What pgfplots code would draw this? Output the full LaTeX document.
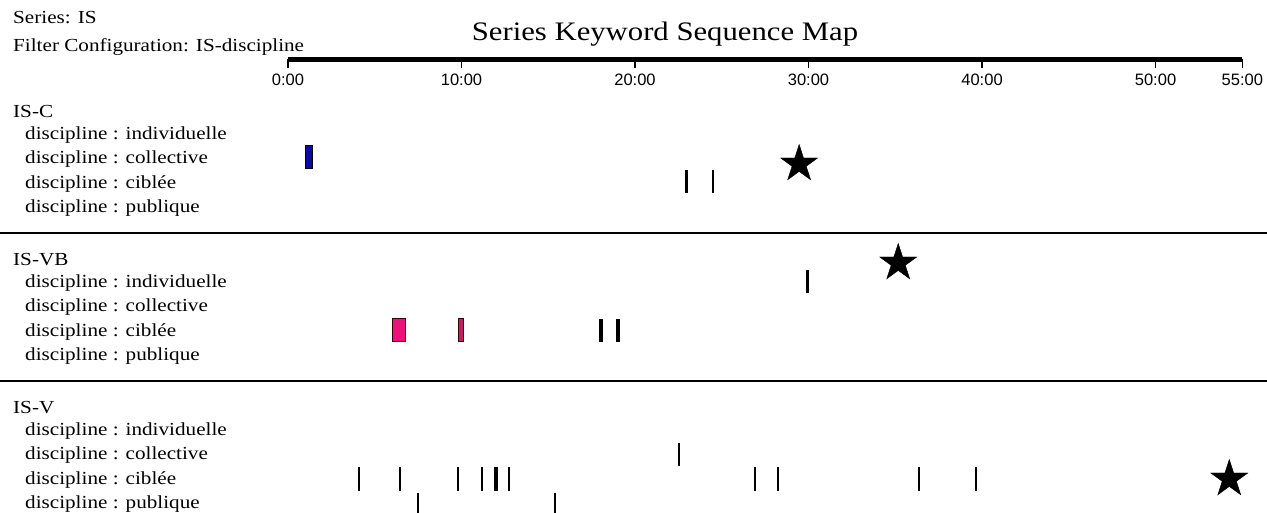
\documentclass[border=0pt]{standalone}
\usepackage{fontspec}
\usepackage{pgfplots}
\pgfplotsset{compat=1.18}
\newfontfamily\lbl{Liberation Serif}[FakeStretch=1.15]
\newfontfamily\tck{Liberation Sans}
\definecolor{barblue}{HTML}{0A0AA0}
\definecolor{barpink}{HTML}{F0107A}
\definecolor{barcrim}{HTML}{C02060}
\pgfdeclareplotmark{fstar}{%
  \pgfpathmoveto{\pgfpointpolar{90}{\pgfplotmarksize}}%
  \pgfpathlineto{\pgfpointpolar{126}{0.382*\pgfplotmarksize}}%
  \pgfpathlineto{\pgfpointpolar{162}{\pgfplotmarksize}}%
  \pgfpathlineto{\pgfpointpolar{198}{0.382*\pgfplotmarksize}}%
  \pgfpathlineto{\pgfpointpolar{234}{\pgfplotmarksize}}%
  \pgfpathlineto{\pgfpointpolar{270}{0.382*\pgfplotmarksize}}%
  \pgfpathlineto{\pgfpointpolar{306}{\pgfplotmarksize}}%
  \pgfpathlineto{\pgfpointpolar{342}{0.382*\pgfplotmarksize}}%
  \pgfpathlineto{\pgfpointpolar{18}{\pgfplotmarksize}}%
  \pgfpathlineto{\pgfpointpolar{54}{0.382*\pgfplotmarksize}}%
  \pgfpathclose
  \pgfusepathqfillstroke}
\tikzset{txt/.style={font=\lbl\fontsize{18.4}{20}\selectfont, anchor=base west, inner sep=0pt}}
\begin{document}
\begin{tikzpicture}
\useasboundingbox (-288pt,0pt) rectangle (979pt,513pt);
\begin{axis}[
  at={(0pt,0pt)}, anchor=south west,
  scale only axis, width=954.3pt, height=453.5pt,
  xmin=0, xmax=55, ymin=-513, ymax=-59.5,
  axis x line*=top, axis y line=none,
  x axis line style={line width=5pt, line cap=butt, black},
  xtick={0,10,20,30,40,50,55},
  xticklabels={0:00,10:00,20:00,30:00,40:00,50:00,55:00},
  tick align=inside,
  major tick length=8.5pt,
  xtick style={line width=1.5pt, black},
  xticklabel style={font=\tck\fontsize{16.5}{18}\selectfont, anchor=north, yshift=-10.5pt},
  unbounded coords=jump,
  clip=false,
]
% colored interval bars
\addplot[fill=barblue, draw=black, line width=1pt] coordinates {(0.98,-146) (1.44,-146) (1.44,-169) (0.98,-169)} --cycle;
\addplot[fill=barpink, draw=black!80!red, line width=1pt] coordinates {(6.02,-319) (6.75,-319) (6.75,-342) (6.02,-342)} --cycle;
\addplot[fill=barcrim, draw=black!80!red, line width=1pt] coordinates {(9.85,-319) (10.12,-319) (10.12,-342) (9.85,-342)} --cycle;
% thin event lines (2px): start and end of each mark, separated by jumps
\addplot[black, line width=2pt, line cap=butt] coordinates {
  (24.50,-170) (24.50,-193) (24.50,nan)
  (22.54,-443) (22.54,-466) (22.54,nan)
  (4.08,-467) (4.08,-491) (4.08,nan)
  (6.44,-467) (6.44,-491) (6.44,nan)
  (9.78,-467) (9.78,-491) (9.78,nan)
  (11.20,-467) (11.20,-491) (11.20,nan)
  (12.72,-467) (12.72,-491) (12.72,nan)
  (26.92,-467) (26.92,-491) (26.92,nan)
  (28.25,-467) (28.25,-491) (28.25,nan)
  (36.38,-467) (36.38,-491) (36.38,nan)
  (39.67,-467) (39.67,-491) (39.67,nan)
  (7.48,-493) (7.48,-513) (7.48,nan)
  (15.41,-493) (15.41,-513)
};
% medium event lines (3px)
\addplot[black, line width=3pt, line cap=butt] coordinates {
  (22.95,-170) (22.95,-193) (22.95,nan)
  (29.92,-270) (29.92,-293)
};
% thick event lines (4px)
\addplot[black, line width=4pt, line cap=butt] coordinates {
  (18.05,-319) (18.05,-342) (18.05,nan)
  (19.03,-319) (19.03,-342) (19.03,nan)
  (12.01,-467) (12.01,-491)
};
% stars
\addplot[only marks, mark=fstar, mark size=19.5pt, fill=black, draw=black] coordinates {
  (29.46,-164) (35.17,-263) (54.25,-479)
};
\end{axis}
% header texts
\node[txt] at (-275pt,489pt) {Series: IS};
\node[txt] at (-275pt,461pt) {Filter Configuration: IS-discipline};
\node[font=\lbl\fontsize{26.7}{30}\selectfont, anchor=base, inner sep=0pt] at (377pt,472pt) {Series Keyword Sequence Map};
% separators
\draw[line width=2pt] (-288pt,280pt) -- (979pt,280pt);
\draw[line width=2pt] (-288pt,132pt) -- (979pt,132pt);
% group labels
\foreach \g/\nm in {110/IS-C,258/IS-VB,406/IS-V}{
  \pgfmathsetmacro\ya{513-\g-8}
  \pgfmathsetmacro\yb{513-\g-23.5-6.5}
  \pgfmathsetmacro\yc{513-\g-47.5-6.5}
  \pgfmathsetmacro\yd{513-\g-72-6.5}
  \pgfmathsetmacro\ye{513-\g-96.5-6.5}
  \node[txt] at (-275pt,\ya pt) {\nm};
  \node[txt] at (-263pt,\yb pt) {discipline : individuelle};
  \node[txt] at (-263pt,\yc pt) {discipline : collective};
  \node[txt] at (-263pt,\yd pt) {discipline : ciblée};
  \node[txt] at (-263pt,\ye pt) {discipline : publique};
}
\end{tikzpicture}
\end{document}
